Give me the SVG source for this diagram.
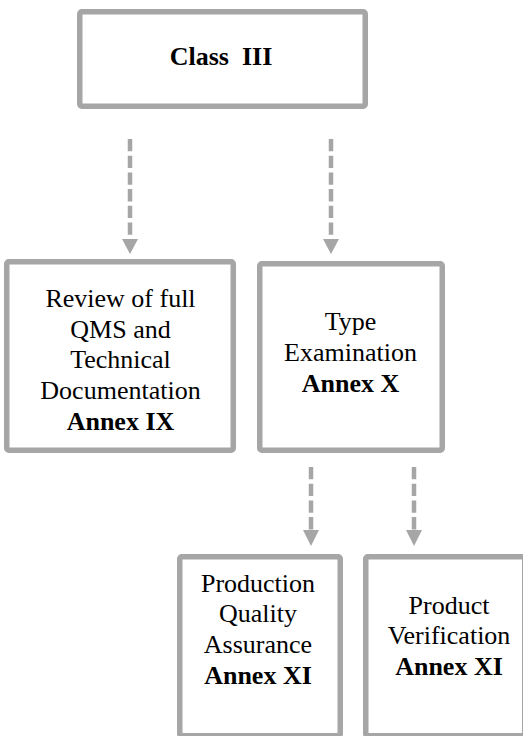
<svg xmlns="http://www.w3.org/2000/svg" width="523" height="736" viewBox="0 0 523 736">
<style>
.box{fill:#fff;stroke:#a6a6a6;stroke-width:5.5}
.t{font-family:'Liberation Serif','Times New Roman',Times,'DejaVu Serif',serif;font-size:26px;fill:#000;text-anchor:middle}
.b{font-weight:bold}
.c{stroke:#a6a6a6;stroke-width:4.5;stroke-dasharray:12.3 4.4;fill:none}
.h{fill:#a6a6a6}
</style>
<rect width="523" height="736" fill="#fff"/>
<g id="connectors">
<line class="c" x1="130" y1="139" x2="130" y2="239"/>
<polygon class="h" points="122,239 138,239 130,254"/>
<line class="c" x1="331" y1="139" x2="331" y2="239"/>
<polygon class="h" points="323,239 339,239 331,254"/>
<line class="c" x1="311" y1="467" x2="311" y2="531"/>
<polygon class="h" points="303,530 319,530 311,546"/>
<line class="c" x1="414" y1="467" x2="414" y2="531"/>
<polygon class="h" points="406,530 422,530 414,546"/>
</g>
<g id="class3">
<rect class="box" x="79.75" y="11.75" width="285.5" height="94.5" rx="2"/>
<text class="t b" x="221" y="65" xml:space="preserve">Class  III</text>
</g>
<g id="annex9">
<rect class="box" x="6.75" y="261.75" width="226.5" height="188.5" rx="2"/>
<text class="t" x="120.5" y="307">Review of full</text>
<text class="t" x="120.5" y="338">QMS and</text>
<text class="t" x="120.5" y="368">Technical</text>
<text class="t" x="120.5" y="399">Documentation</text>
<text class="t b" x="120.5" y="430">Annex IX</text>
</g>
<g id="annex10">
<rect class="box" x="259.75" y="263.75" width="182.5" height="186.5" rx="2"/>
<text class="t" x="350.5" y="330">Type</text>
<text class="t" x="350.5" y="361">Examination</text>
<text class="t b" x="350.5" y="392">Annex X</text>
</g>
<g id="annex11a">
<rect class="box" x="179.75" y="556.75" width="160.5" height="179" rx="2"/>
<text class="t" x="258" y="592">Production</text>
<text class="t" x="258" y="622">Quality</text>
<text class="t" x="258" y="653">Assurance</text>
<text class="t b" x="258" y="684">Annex XI</text>
</g>
<g id="annex11b">
<rect class="box" x="365.75" y="556.75" width="159" height="179" rx="2"/>
<text class="t" x="449" y="614">Product</text>
<text class="t" x="449" y="644">Verification</text>
<text class="t b" x="449" y="675">Annex XI</text>
</g>
</svg>
